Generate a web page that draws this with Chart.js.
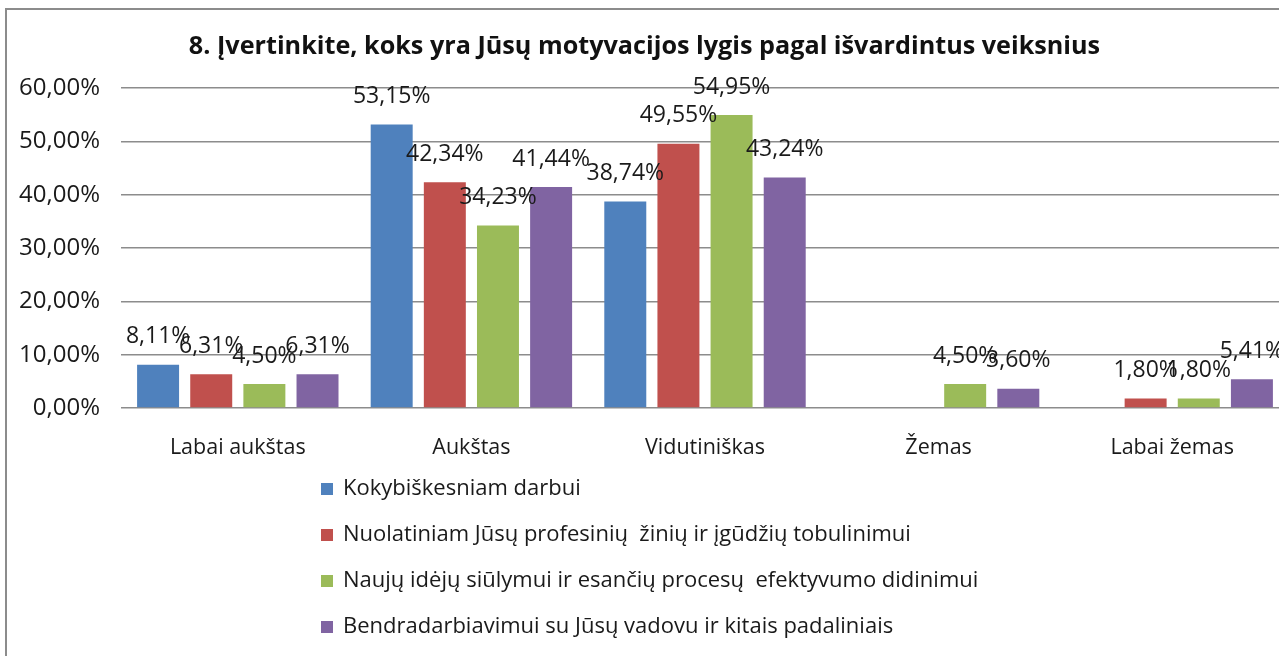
<!DOCTYPE html>
<html>
<head>
<meta charset="utf-8">
<script src="https://cdn.jsdelivr.net/npm/chart.js@4.4.0/dist/chart.umd.min.js"></script>
<style>
html,body{margin:0;padding:0;background:#fff;overflow:hidden;}
#wrap{width:1300px;height:656px;}
</style>
</head>
<body>
<div id="wrap"><canvas id="c" width="1300" height="656"></canvas></div>
<script>
const titleText = "8. Įvertinkite, koks yra Jūsų motyvacijos lygis pagal išvardintus veiksnius";
const categories = ["Labai aukštas", "Aukštas", "Vidutiniškas", "Žemas", "Labai žemas"];
const seriesNames = [
  "Kokybiškesniam darbui",
  "Nuolatiniam Jūsų profesinių  žinių ir įgūdžių tobulinimui",
  "Naujų idėjų siūlymui ir esančių procesų  efektyvumo didinimui",
  "Bendradarbiavimui su Jūsų vadovu ir kitais padaliniais"
];
const kokybiskesniam = [8.11, 53.15, 38.74, null, null];
const nuolatiniam = [6.31, 42.34, 49.55, null, 1.80];
const nauju = [4.50, 34.23, 54.95, 4.50, 1.80];
const bendradarbiavimui = [6.31, 41.44, 43.24, 3.60, 5.41];
const yTicks = [0, 10, 20, 30, 40, 50, 60];

const colors = ["#4F81BD", "#C0504D", "#9BBB59", "#8064A2"];
const FONT = "'Open Sans', 'DejaVu Sans', sans-serif";
const fmt = v => v.toFixed(2).replace('.', ',') + '%';

const borderPlugin = {
  id: 'border',
  beforeDraw(chart) {
    const ctx = chart.ctx;
    ctx.save();
    ctx.fillStyle = '#fff';
    ctx.fillRect(0, 0, chart.width, chart.height);
    ctx.strokeStyle = '#8c8c8c';
    ctx.lineWidth = 2;
    ctx.strokeRect(6, 9, 1400, 800);
    ctx.restore();
  }
};

const labelPlugin = {
  id: 'vlabels',
  afterDatasetsDraw(chart) {
    const ctx = chart.ctx;
    ctx.save();
    ctx.font = "23px " + FONT;
    ctx.fillStyle = '#1a1a1a';
    ctx.textAlign = 'center';
    ctx.textBaseline = 'middle';
    chart.data.datasets.forEach((ds, i) => {
      const meta = chart.getDatasetMeta(i);
      meta.data.forEach((bar, j) => {
        const v = ds.data[j];
        if (v === null || v === undefined) return;
        ctx.fillText(fmt(v), bar.x, bar.y - 28);
      });
    });
    ctx.restore();
  }
};

const legendPlugin = {
  id: 'vlegend',
  afterDraw(chart) {
    const ctx = chart.ctx;
    ctx.save();
    ctx.font = "22px " + FONT;
    ctx.textBaseline = 'middle';
    ctx.textAlign = 'left';
    chart.data.datasets.forEach((ds, i) => {
      const y = 489 + i * 46;
      ctx.fillStyle = ds.backgroundColor;
      ctx.fillRect(321, y - 6, 12, 12);
      ctx.fillStyle = '#1a1a1a';
      ctx.fillText(ds.label, 343, y);
    });
    ctx.restore();
  }
};

const seriesData = [kokybiskesniam, nuolatiniam, nauju, bendradarbiavimui];

new Chart(document.getElementById('c'), {
  type: 'bar',
  data: {
    labels: categories,
    datasets: seriesData.map((d, i) => ({
      label: seriesNames[i],
      data: d,
      backgroundColor: colors[i],
      borderWidth: 0,
      categoryPercentage: 0.91,
      barPercentage: 0.79
    }))
  },
  options: {
    responsive: false,
    animation: false,
    layout: { padding: { left: 0, right: 11, top: 0, bottom: 196 } },
    plugins: {
      legend: { display: false },
      tooltip: { enabled: false },
      title: {
        display: true,
        text: titleText,
        color: '#111',
        font: { family: FONT, size: 25.2, weight: 'bold' },
        padding: { top: 32, bottom: 25.8 }
      }
    },
    scales: {
      x: {
        afterFit(s) { s.height = 52; },
        grid: { display: false, drawTicks: false },
        border: { display: false },
        ticks: { color: '#1a1a1a', font: { family: FONT, size: 21.5 }, padding: 27, maxRotation: 0 }
      },
      y: {
        min: 0, max: 60,
        afterBuildTicks(s) { s.ticks = yTicks.map(v => ({ value: v })); },
        afterFit(s) { s.width = 121; },
        grid: { color: '#8c8c8c', lineWidth: 1.5, drawTicks: false },
        border: { display: false },
        ticks: { color: '#1a1a1a', font: { family: FONT, size: 24 }, padding: 21, callback: v => fmt(v) }
      }
    }
  },
  plugins: [borderPlugin, labelPlugin, legendPlugin]
});
</script>
</body>
</html>
